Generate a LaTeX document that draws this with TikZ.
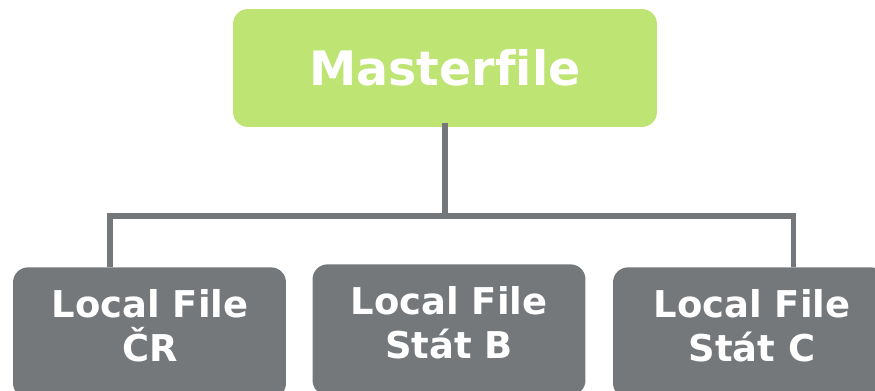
\documentclass[tikz,border=0pt]{standalone}
\usepackage{fontspec}
\setsansfont{DejaVu Sans}[Ligatures=NoCommon]
\usetikzlibrary{positioning}
\definecolor{mastergreen}{RGB}{190,229,115}
\definecolor{filegray}{RGB}{117,120,123}

\begin{document}
\begin{tikzpicture}[x=0.02cm,y=-0.02cm,
  masterbox/.style={fill=mastergreen,rounded corners=0.3cm,minimum width=8.48cm,minimum height=2.36cm,text=white,font=\sffamily\bfseries\fontsize{27}{32}\selectfont},
  filebox/.style={fill=filegray,rounded corners=0.3cm,minimum width=5.46cm,minimum height=2.62cm,anchor=north},
  filetext/.style={text=white,align=center,inner sep=0pt,font=\sffamily\bfseries\fontsize{21}{25}\selectfont},
  link/.style={draw=filegray,line width=0.11cm}]
\useasboundingbox (0,0) rectangle (875,391);

\node[masterbox] (master) at (445,68) {Masterfile};

\node[filebox] (cr) at (149.5,267) {};
\node[filebox] (statb) at (449,264) {};
\node[filebox] (statc) at (749.5,267) {};
\node[filetext] (crtext) at (150,326) {Local File\\ČR};
\node[filetext] (statbtext) at (449,323) {Local File\\Stát B};
\node[filetext] (statctext) at (752,326) {Local File\\Stát C};

% connectors
\coordinate (busl) at (110,216);
\coordinate (busr) at (793.5,216);
\draw[link] ([yshift=0.08cm]master.south) -- (master.south |- busl);
\draw[link,line cap=rect] (busl) -- (busr);
\draw[link] (busl) -- (busl |- cr.north);
\draw[link] (busr) -- (busr |- statc.north);

\end{tikzpicture}
\end{document}
